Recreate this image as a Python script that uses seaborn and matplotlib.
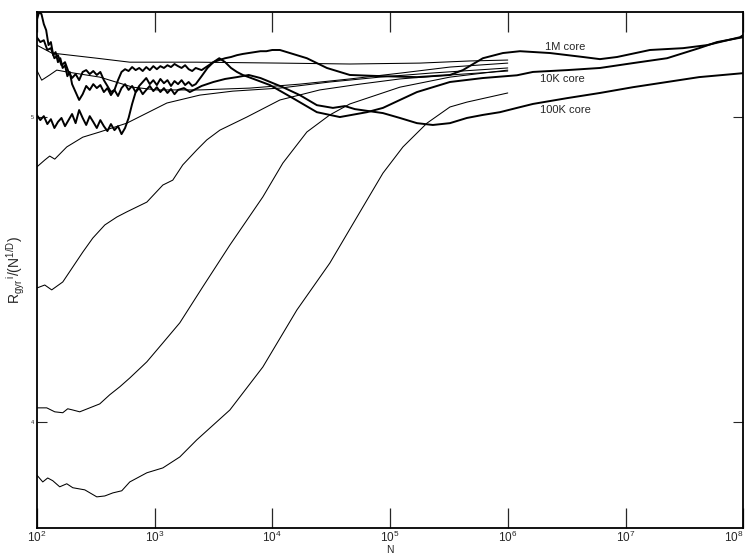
import numpy as np
import pandas as pd
import matplotlib
matplotlib.use("Agg")
import matplotlib.pyplot as plt
import seaborn as sns

# x values are log10(N), y values are R_gyr/(N^(1/D))

# --- thin curves (runs that stop at N = 10^6) ---
thin_a_logn = [2.000, 2.127, 2.510, 2.790, 3.359, 4.065, 4.659, 5.254, 5.679, 6.000]
thin_a_r = [5.236, 5.210, 5.193, 5.180, 5.180, 5.177, 5.174, 5.177, 5.184, 5.187]

thin_b_logn = [2.000, 2.042, 2.110, 2.170, 2.255, 2.535, 2.816, 3.020, 3.385, 3.810,
               4.234, 4.659, 5.084, 5.509, 6.000]
thin_b_r = [5.154, 5.121, 5.138, 5.154, 5.148, 5.131, 5.098, 5.089, 5.089, 5.095,
            5.108, 5.125, 5.144, 5.164, 5.177]

thin_c_logn = [2.000, 2.068, 2.110, 2.153, 2.255, 2.391, 2.535, 2.765, 2.935, 3.105,
               3.385, 3.665, 4.065, 4.489, 4.914, 5.339, 6.000]
thin_c_r = [4.836, 4.859, 4.872, 4.862, 4.902, 4.934, 4.951, 4.980, 5.013, 5.046,
            5.072, 5.085, 5.095, 5.115, 5.131, 5.144, 5.161]

thin_d_logn = [2.000, 2.068, 2.127, 2.221, 2.306, 2.391, 2.476, 2.578, 2.680, 2.765,
               2.935, 3.071, 3.155, 3.240, 3.359, 3.444, 3.555, 3.784, 4.065, 4.404,
               4.744, 5.084, 5.509, 6.000]
thin_d_r = [4.439, 4.449, 4.433, 4.459, 4.508, 4.557, 4.603, 4.646, 4.672, 4.689,
            4.721, 4.777, 4.793, 4.843, 4.892, 4.925, 4.957, 5.000, 5.056, 5.089,
            5.108, 5.125, 5.138, 5.151]

thin_e_logn = [2.000, 2.085, 2.153, 2.221, 2.263, 2.306, 2.365, 2.450, 2.535, 2.620,
               2.705, 2.790, 2.935, 3.071, 3.215, 3.410, 3.640, 3.920, 4.090, 4.294,
               4.489, 4.659, 5.084, 5.509, 6.000]
thin_e_r = [4.046, 4.046, 4.033, 4.030, 4.043, 4.039, 4.033, 4.046, 4.059, 4.089,
            4.115, 4.144, 4.197, 4.259, 4.325, 4.443, 4.580, 4.738, 4.849, 4.951,
            5.007, 5.043, 5.098, 5.131, 5.154]

thin_f_logn = [2.000, 2.051, 2.093, 2.136, 2.195, 2.255, 2.306, 2.408, 2.510, 2.578,
               2.646, 2.722, 2.790, 2.935, 3.071, 3.215, 3.359, 3.640, 3.920, 4.209,
               4.489, 4.770, 4.940, 5.110, 5.314, 5.509, 5.653, 6.000]
thin_f_r = [3.826, 3.803, 3.816, 3.807, 3.787, 3.797, 3.784, 3.777, 3.754, 3.757,
            3.767, 3.774, 3.803, 3.833, 3.849, 3.885, 3.941, 4.039, 4.180, 4.367,
            4.521, 4.705, 4.816, 4.902, 4.980, 5.033, 5.049, 5.079]

# --- thick curves (core runs, out to N = 10^8) ---
core_1m_logn = [2.00, 2.03, 2.06, 2.09, 2.12, 2.15, 2.18, 2.21, 2.24, 2.27, 2.30, 2.33,
                2.36, 2.39, 2.42, 2.45, 2.48, 2.51, 2.54, 2.57, 2.60, 2.63, 2.66, 2.69,
                2.72, 2.75, 2.78, 2.81, 2.84, 2.87, 2.90, 2.93, 2.96, 2.99, 3.02, 3.05,
                3.08, 3.11, 3.14, 3.17, 3.20, 3.23, 3.26, 3.29, 3.32, 3.35, 3.40, 3.45,
                3.50, 3.55, 3.60, 3.65, 3.70, 3.75, 3.80, 3.85, 3.90, 3.95, 4.00, 4.065,
                4.150, 4.294, 4.464, 4.659, 4.940, 5.229, 5.509, 5.619, 5.789, 5.959,
                6.104, 6.359, 6.639, 6.783, 6.928, 7.208, 7.489, 7.693, 7.973, 8.000]
core_1m_r = [5.262, 5.246, 5.252, 5.220, 5.226, 5.193, 5.203, 5.170, 5.180, 5.148, 5.128, 5.141,
             5.121, 5.148, 5.154, 5.141, 5.151, 5.138, 5.148, 5.121, 5.102, 5.082, 5.089, 5.121,
             5.148, 5.157, 5.151, 5.164, 5.154, 5.161, 5.151, 5.164, 5.154, 5.167, 5.157, 5.167,
             5.161, 5.170, 5.164, 5.174, 5.167, 5.161, 5.170, 5.157, 5.151, 5.161, 5.154, 5.167,
             5.180, 5.187, 5.193, 5.197, 5.203, 5.207, 5.210, 5.213, 5.216, 5.216, 5.220, 5.220,
             5.210, 5.193, 5.161, 5.138, 5.134, 5.131, 5.138, 5.154, 5.193, 5.210,
             5.216, 5.210, 5.197, 5.190, 5.197, 5.220, 5.226, 5.236, 5.262, 5.269]

core_10k_logn = [2.00, 2.03, 2.06, 2.09, 2.12, 2.15, 2.18, 2.21, 2.24, 2.27, 2.30, 2.33,
                 2.36, 2.39, 2.42, 2.45, 2.48, 2.51, 2.54, 2.57, 2.60, 2.63, 2.66, 2.69,
                 2.72, 2.75, 2.78, 2.81, 2.84, 2.87, 2.90, 2.93, 2.96, 2.99, 3.02, 3.05,
                 3.08, 3.11, 3.14, 3.17, 3.20, 3.23, 3.26, 3.29, 3.32, 3.35, 3.40, 3.45,
                 3.50, 3.55, 3.60, 3.65, 3.70, 3.75, 3.80, 3.980, 4.175, 4.379, 4.574,
                 4.804, 4.940, 5.084, 5.229, 5.509, 5.789, 6.078, 6.214, 6.503, 6.783,
                 7.064, 7.353, 7.625, 7.777, 8.000]
core_10k_r = [5.007, 4.990, 5.003, 4.977, 4.993, 4.964, 4.984, 4.997, 4.970, 4.990, 5.010, 4.980,
              5.023, 4.997, 4.974, 5.003, 4.984, 4.964, 4.990, 4.970, 4.954, 4.977, 4.957, 4.970,
              4.944, 4.964, 4.997, 5.043, 5.082, 5.102, 5.115, 5.128, 5.108, 5.121, 5.105, 5.125,
              5.111, 5.121, 5.102, 5.118, 5.108, 5.121, 5.105, 5.115, 5.102, 5.108, 5.134, 5.161,
              5.180, 5.193, 5.180, 5.161, 5.148, 5.138, 5.131, 5.105, 5.062, 5.016, 5.000,
              5.016, 5.030, 5.056, 5.082, 5.115, 5.128, 5.137, 5.148, 5.154, 5.161,
              5.177, 5.193, 5.226, 5.246, 5.262]

core_100k_logn = [2.00, 2.02, 2.04, 2.06, 2.08, 2.10, 2.12, 2.14, 2.16, 2.18, 2.20, 2.22,
                  2.24, 2.26, 2.28, 2.30, 2.33, 2.36, 2.39, 2.42, 2.45, 2.48, 2.51, 2.54,
                  2.57, 2.60, 2.63, 2.66, 2.69, 2.72, 2.75, 2.78, 2.81, 2.84, 2.87, 2.90,
                  2.93, 2.96, 2.99, 3.02, 3.05, 3.08, 3.11, 3.14, 3.17, 3.20, 3.25, 3.30,
                  3.35, 3.40, 3.50, 3.60, 3.70, 3.80, 3.90, 4.090, 4.234, 4.379, 4.515,
                  4.617, 4.702, 4.940, 5.084, 5.229, 5.364, 5.509, 5.653, 5.789, 5.934,
                  6.078, 6.214, 6.503, 6.783, 7.064, 7.353, 7.625, 8.000]
core_100k_r = [5.318, 5.344, 5.338, 5.305, 5.285, 5.236, 5.246, 5.203, 5.213, 5.180, 5.193, 5.161,
               5.170, 5.134, 5.148, 5.108, 5.082, 5.056, 5.075, 5.102, 5.089, 5.108, 5.095, 5.105,
               5.082, 5.095, 5.072, 5.089, 5.069, 5.095, 5.108, 5.089, 5.102, 5.082, 5.095, 5.075,
               5.089, 5.102, 5.085, 5.098, 5.082, 5.095, 5.079, 5.092, 5.075, 5.089, 5.095, 5.082,
               5.092, 5.102, 5.115, 5.125, 5.131, 5.138, 5.128, 5.098, 5.072, 5.039, 5.030,
               5.036, 5.026, 5.013, 4.997, 4.980, 4.974, 4.980, 4.997, 5.007, 5.016,
               5.030, 5.043, 5.062, 5.079, 5.098, 5.115, 5.131, 5.144]

core_labels = ["1M core", "10K core", "100K core"]
core_label_logn = [6.32, 6.27, 6.27]
core_label_r = [5.230, 5.125, 5.023]

x_ticks = [1e2, 1e3, 1e4, 1e5, 1e6, 1e7, 1e8]
x_ticklabels = ["10$^{2}$", "10$^{3}$", "10$^{4}$", "10$^{5}$", "10$^{6}$", "10$^{7}$", "10$^{8}$"]
y_ticks = [4, 5]

sns.set_style("white")
plt.rcParams["font.family"] = ["Liberation Sans", "DejaVu Sans"]
plt.rcParams["mathtext.fontset"] = "custom"
plt.rcParams["mathtext.rm"] = "Liberation Sans"
plt.rcParams["mathtext.it"] = "Liberation Sans:italic"

fig = plt.figure(figsize=(7.5, 5.54), dpi=100)
ax = fig.add_axes([0.049, 0.047, 0.942, 0.931])

thin = [(thin_a_logn, thin_a_r), (thin_b_logn, thin_b_r), (thin_c_logn, thin_c_r),
        (thin_d_logn, thin_d_r), (thin_e_logn, thin_e_r), (thin_f_logn, thin_f_r)]
thick = [(core_1m_logn, core_1m_r), (core_10k_logn, core_10k_r), (core_100k_logn, core_100k_r)]

for logn, r in thin:
    df = pd.DataFrame({"N": np.power(10.0, logn), "R": r})
    sns.lineplot(data=df, x="N", y="R", ax=ax, sort=False, estimator=None,
                 color="black", linewidth=0.75)
for logn, r in thick:
    df = pd.DataFrame({"N": np.power(10.0, logn), "R": r})
    sns.lineplot(data=df, x="N", y="R", ax=ax, sort=False, estimator=None,
                 color="black", linewidth=1.4)

for lab, lx, ly in zip(core_labels, core_label_logn, core_label_r):
    ax.text(10 ** lx, ly, lab, fontsize=8, va="center", ha="left")

ax.set_xscale("log")
ax.set_xlim(1e2, 1e8)
ax.set_ylim(3.652, 5.344)
ax.set_xticks(x_ticks)
ax.set_xticklabels(x_ticklabels, fontsize=8.5)
ax.xaxis.set_minor_locator(matplotlib.ticker.NullLocator())
ax.set_yticks(y_ticks)
ax.set_yticklabels(["4", "5"], fontsize=4)
ax.tick_params(axis="x", which="major", direction="in", length=14.5, width=0.9,
               top=True, bottom=True, pad=1.5)
ax.tick_params(axis="y", which="major", direction="in", length=7, width=0.8,
               left=True, right=True, pad=2)
# keep the last decade label inside the figure
ax.get_xticklabels()[-1].set_horizontalalignment("right")

ax.set_xlabel("N", fontsize=7.5, labelpad=0)
ax.set_ylabel("R$_{\\mathrm{gyr}}$$^{\\,\\mathrm{i}}$/(N$^{\\mathrm{1/D}}$)", fontsize=10, labelpad=3)

for s in ax.spines.values():
    s.set_color("black")
    s.set_linewidth(1.3)

fig.savefig("out.png", dpi=100)
